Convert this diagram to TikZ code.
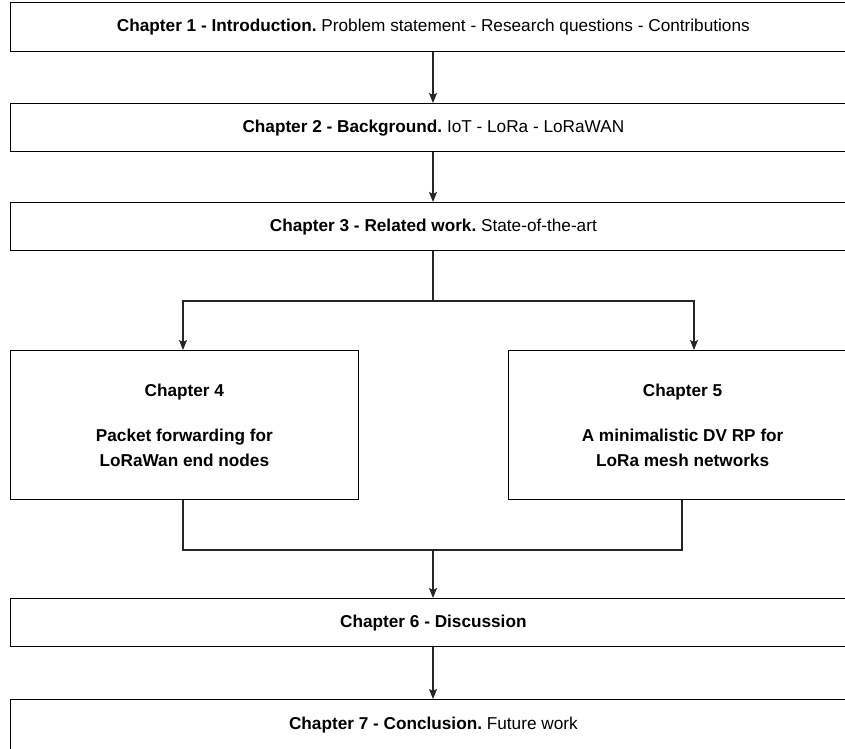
\documentclass[tikz,border=0pt]{standalone}
\usepackage{fontspec}
\setmainfont{Liberation Sans}
\usetikzlibrary{arrows.meta}
\frenchspacing
\begin{document}
\begin{tikzpicture}[x=1pt,y=-1pt,
  box/.style={draw=black, line width=1.2pt, rectangle, inner sep=0pt, anchor=north west,
    font=\fontsize{17.2}{24.5}\selectfont, align=center},
  link/.style={draw=black!85, line width=1.2pt},
  flow/.style={link, -{Stealth[length=10pt,width=8pt,inset=2pt]}}]
  \useasboundingbox (0,0) rectangle (845,748);

  % chapter boxes
  \node[box, minimum width=846.5pt, minimum height=49pt] (ch1) at (9.5,2)
    {\textbf{Chapter 1 - Introduction.} Problem statement - Research questions - Contributions};
  \node[box, minimum width=846.5pt, minimum height=48pt] (ch2) at (9.5,103)
    {\textbf{Chapter 2 - Background.} IoT - LoRa - LoRaWAN};
  \node[box, minimum width=846.5pt, minimum height=48pt] (ch3) at (9.5,202)
    {\textbf{Chapter 3 - Related work.} State-of-the-art};
  \node[box, minimum width=348.5pt, minimum height=149pt] (ch4) at (9.5,350)
    {\textbf{Chapter 4}\\[20.5pt]\textbf{Packet forwarding for}\\\textbf{LoRaWan end nodes}};
  \node[box, minimum width=348pt, minimum height=149pt] (ch5) at (508,350)
    {\textbf{Chapter 5}\\[20.5pt]\textbf{A minimalistic DV RP for}\\\textbf{LoRa mesh networks}};
  \node[box, minimum width=846.5pt, minimum height=48pt] (ch6) at (9.5,598)
    {\textbf{Chapter 6 - Discussion}};
  \node[box, minimum width=846.5pt, minimum height=50.5pt] (ch7) at (9.5,699)
    {\textbf{Chapter 7 - Conclusion.} Future work};

  % junction points of the split and merge
  \coordinate (split) at (433,301);
  \coordinate (splitL) at (183,301);
  \coordinate (splitR) at (694,301);
  \coordinate (mergeL) at (183,550);
  \coordinate (mergeR) at (682,550);
  \coordinate (merge) at (433,550);

  % connectors
  \draw[flow] (ch1.south -| split) -- (ch2.north -| split);
  \draw[flow] (ch2.south -| split) -- (ch3.north -| split);
  \draw[link] (ch3.south -| split) -- (split);
  \draw[flow] (split) -- (splitL) -- (ch4.north -| splitL);
  \draw[flow] (split) -- (splitR) -- (ch5.north -| splitR);
  \draw[link] (ch4.south -| mergeL) -- (mergeL) -- (merge);
  \draw[link] (ch5.south -| mergeR) -- (mergeR) -- (merge);
  \draw[flow] (merge) -- (ch6.north -| merge);
  \draw[flow] (ch6.south -| merge) -- (ch7.north -| merge);
\end{tikzpicture}
\end{document}
